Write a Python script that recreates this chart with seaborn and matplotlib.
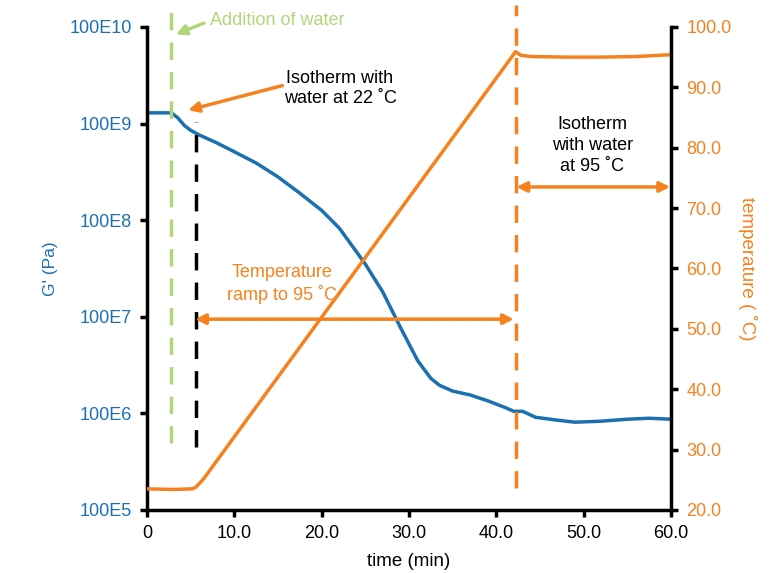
import matplotlib
matplotlib.use("Agg")
import matplotlib.pyplot as plt
import seaborn as sns
import numpy as np
import pandas as pd

# ---- data ----
time_g = [0, 1, 2, 2.8, 3.5, 4.3, 5.0, 6.0, 8, 10, 12.5, 15, 17.5, 20, 22, 23.5, 25, 27, 29,
          31, 32.5, 33.5, 35, 37, 39, 41, 42, 43, 44.5, 47, 49, 52, 55, 57.5, 60]
g_prime = [1.29e11, 1.29e11, 1.29e11, 1.29e11, 1.15e11, 9.5e10, 8.5e10, 7.6e10, 6.3e10, 5.1e10,
           3.9e10, 2.8e10, 1.9e10, 1.26e10, 8.3e9, 5.4e9, 3.5e9, 1.8e9, 7.8e8,
           3.5e8, 2.3e8, 1.95e8, 1.7e8, 1.55e8, 1.35e8, 1.15e8, 1.05e8, 1.05e8, 9.1e7, 8.5e7,
           8.1e7, 8.3e7, 8.7e7, 8.9e7, 8.7e7]

time_t = [0, 3, 5.2, 5.6, 6.0, 6.5, 42.2, 42.8, 44, 48, 52, 56, 60]
temp = [23.5, 23.4, 23.5, 23.8, 24.4, 25.2, 95.9, 95.3, 95.1, 95.0, 95.0, 95.1, 95.4]

x_ticks = [0, 10, 20, 30, 40, 50, 60]
x_labels = ["0", "10.0", "20.0", "30.0", "40.0", "50.0", "60.0"]
g_ticks = [1e7, 1e8, 1e9, 1e10, 1e11, 1e12]
g_labels = ["100E5", "100E6", "100E7", "100E8", "100E9", "100E10"]
t_ticks = [20, 30, 40, 50, 60, 70, 80, 90, 100]

water_time = 2.75
ramp_start = 5.6
iso95_start = 42.2

BLUE = "#1B70B0"
ORANGE = "#F5821F"
GREEN = "#B3D57A"

sns.set_style("white")
plt.rcParams["font.family"] = ["Liberation Sans", "DejaVu Sans"]

fig = plt.figure(figsize=(7.78, 5.73), dpi=100)
ax = fig.add_axes([0.189, 0.110, 0.8625 - 0.189, 0.953 - 0.110])
ax2 = ax.twinx()

df_g = pd.DataFrame({"time": time_g, "G": g_prime})
df_t = pd.DataFrame({"time": time_t, "T": temp})

sns.lineplot(data=df_g, x="time", y="G", ax=ax, color=BLUE, lw=2.5)
sns.lineplot(data=df_t, x="time", y="T", ax=ax2, color=ORANGE, lw=2.5)

ax.set_yscale("log")
ax.set_ylim(1e7, 1e12)
ax.set_xlim(0, 60)
ax.set_yticks(g_ticks)
ax.set_yticklabels(g_labels)
ax.minorticks_off()
ax.set_xticks(x_ticks)
ax.set_xticklabels(x_labels)
ax2.set_ylim(20, 100)
ax2.set_yticks(t_ticks)
ax2.set_yticklabels([f"{v:.1f}" for v in t_ticks])

for a in (ax, ax2):
    a.spines["top"].set_visible(False)
    for s in ("left", "right", "bottom"):
        a.spines[s].set_color("black")
        a.spines[s].set_linewidth(2.5)
ax.spines["right"].set_visible(False)
ax2.spines["left"].set_visible(False)
ax2.spines["bottom"].set_visible(False)

ax.tick_params(axis="y", colors=BLUE, labelsize=13, length=5, width=2.5, direction="out", left=True,
               pad=6)
ax.tick_params(axis="y", color="black")
ax.tick_params(axis="x", colors="black", labelsize=13, length=5, width=2.5, direction="out", bottom=True,
               pad=6)
ax2.tick_params(axis="y", colors=ORANGE, labelsize=13, length=5, width=2.5, direction="out", right=True,
                pad=6)
ax2.tick_params(axis="y", color="black")

ax.set_xlabel("time (min)", fontsize=13.5, color="black", labelpad=8)
ax.set_ylabel("G' (Pa)", fontsize=12.5, color=BLUE, labelpad=8)
ax2.set_ylabel("temperature ( ˚C)", fontsize=13.5, color=ORANGE, rotation=270, labelpad=18)

# vertical dashed markers
trans = ax2.get_xaxis_transform()
ax2.plot([water_time, water_time], [0.139, 1.041], transform=trans, color=GREEN, lw=2.5,
         dashes=(5, 3.5), clip_on=False)
ax2.plot([ramp_start, ramp_start], [0.131, 0.803], transform=trans, color="black", lw=2.5,
         dashes=(5, 3.5), clip_on=False)
ax2.plot([iso95_start, iso95_start], [0.045, 1.045], transform=trans, color=ORANGE, lw=2.5,
         dashes=(5, 3.5), clip_on=False)

# annotations
ax2.annotate("", xy=(3.0, 98.6), xytext=(6.8, 100.8),
             arrowprops=dict(arrowstyle="-|>,head_length=0.6,head_width=0.3", color=GREEN, lw=2.5),
             annotation_clip=False)
ax2.text(7.2, 101.0, "Addition of water", color=GREEN, fontsize=13, va="center", ha="left")

ax2.annotate("", xy=(4.4, 86.1), xytext=(15.8, 90.4),
             arrowprops=dict(arrowstyle="-|>,head_length=0.6,head_width=0.3", color=ORANGE, lw=2.5))
ax2.text(22.1, 89.8, "Isotherm with\nwater at 22 ˚C", color="black", fontsize=13, ha="center",
         va="center", linespacing=1.3)

ax2.annotate("", xy=(5.5, 51.6), xytext=(42.0, 51.6),
             arrowprops=dict(arrowstyle="<|-|>,head_length=0.6,head_width=0.3", color=ORANGE, lw=2.5,
                             shrinkA=0, shrinkB=0))
ax2.text(15.5, 57.4, "Temperature\nramp to 95 ˚C", color=ORANGE, fontsize=13, ha="center",
         va="center", linespacing=1.3)

ax2.annotate("", xy=(42.3, 73.5), xytext=(59.9, 73.5),
             arrowprops=dict(arrowstyle="<|-|>,head_length=0.6,head_width=0.3", color=ORANGE, lw=2.5,
                             shrinkA=0, shrinkB=0))
ax2.text(51.0, 80.4, "Isotherm\nwith water\nat 95 ˚C", color="black", fontsize=13, ha="center",
         va="center", linespacing=1.3)

fig.savefig("out.png", dpi=100)
